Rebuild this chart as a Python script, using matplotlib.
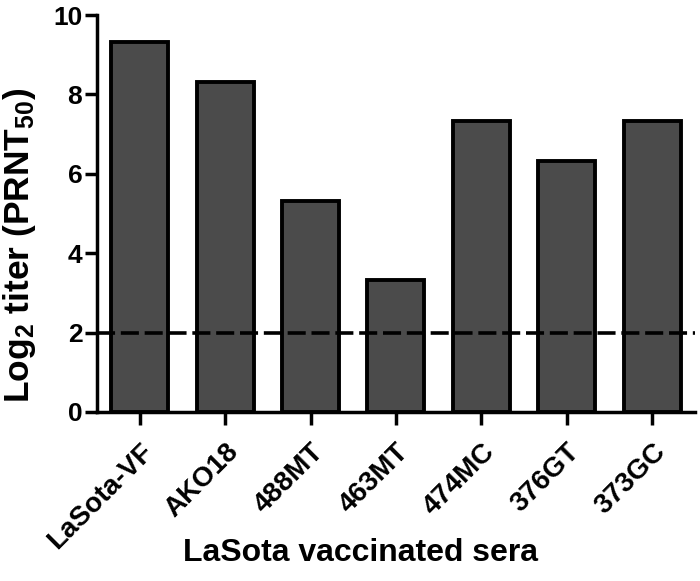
import numpy as np
import matplotlib
matplotlib.use("Agg")
import matplotlib.pyplot as plt
import matplotlib.transforms as mtransforms

plt.rcParams['font.family'] = 'Liberation Sans'
plt.rcParams['font.weight'] = 'bold'
plt.rcParams['mathtext.fontset'] = 'custom'
plt.rcParams['mathtext.bf'] = 'Liberation Sans:bold'
plt.rcParams['mathtext.rm'] = 'Liberation Sans:bold'
plt.rcParams['mathtext.default'] = 'bf'

sera = ["LaSota-VF", "AKO18", "488MT", "463MT", "474MC", "376GT", "373GC"]
log2_titer = [9.32, 8.32, 5.32, 3.32, 7.32, 6.32, 7.32]
cutoff = 2

fig = plt.figure(figsize=(7, 5.81), dpi=100)
ax = fig.add_axes([0.1386, 0.291, 0.854, 0.683])

x = np.arange(len(sera))
ax.bar(x, log2_titer, width=0.667, color="#4b4b4b", edgecolor="black", linewidth=2.8, zorder=2)
ax.axhline(cutoff, color="black", linestyle=(0, (5, 1.6)), linewidth=2.6, zorder=3)

ax.set_xlim(-0.5, 6.5)
ax.set_ylim(0, 10)
ax.set_yticks([0, 2, 4, 6, 8, 10])
ax.set_xticks(x)
ax.set_xticklabels(sera, rotation=45, ha="right", rotation_mode="anchor", fontsize=20, fontweight="bold")
offset = mtransforms.ScaledTranslation(5 / 100, 0, fig.dpi_scale_trans)
for lab in ax.get_xticklabels():
    lab.set_transform(lab.get_transform() + offset)
ax.tick_params(axis="y", labelsize=19, width=2.5, length=8.6, pad=2)
ax.tick_params(axis="x", width=2.5, length=9, pad=10)
for lab in ax.get_yticklabels():
    lab.set_fontweight("bold")

for s in ["top", "right"]:
    ax.spines[s].set_visible(False)
for s in ["left", "bottom"]:
    ax.spines[s].set_linewidth(2.5)

ax.set_xlabel("LaSota vaccinated sera", fontsize=23, fontweight="bold")
ax.xaxis.set_label_coords(0.44, -0.318)
ax.set_ylabel(r"Log$_2$ titer (PRNT$_{50}$)", fontsize=25.5, fontweight="bold")
ax.yaxis.set_label_coords(-0.099, 0.42)

fig.savefig("out.png", dpi=100)
